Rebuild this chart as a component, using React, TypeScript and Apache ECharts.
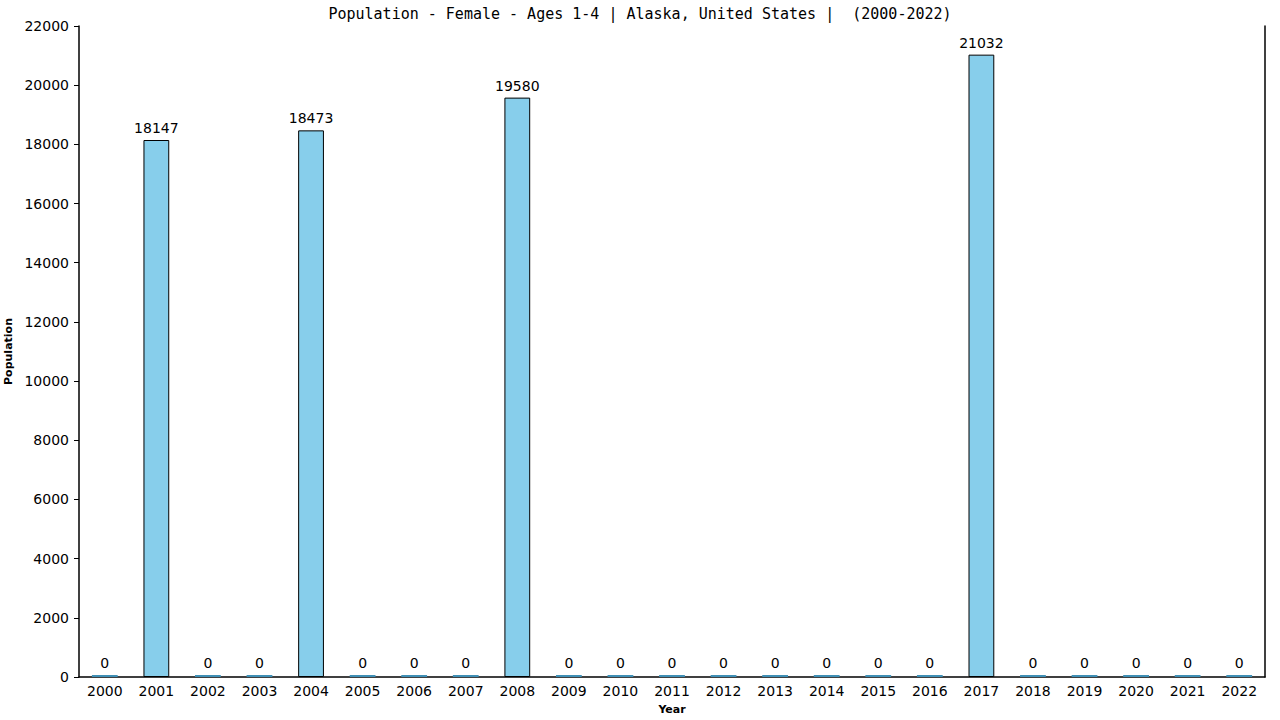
import { useEffect, useRef } from 'react'
import * as echarts from 'echarts'

const years = [
  '2000', '2001', '2002', '2003', '2004', '2005', '2006', '2007', '2008', '2009', '2010', '2011',
  '2012', '2013', '2014', '2015', '2016', '2017', '2018', '2019', '2020', '2021', '2022',
]
const population = [
  0, 18147, 0, 0, 18473, 0, 0, 0, 19580, 0, 0, 0, 0, 0, 0, 0, 0, 21032, 0, 0, 0, 0, 0,
]
const title = 'Population - Female - Ages 1-4 | Alaska, United States |  (2000-2022)'

const labelFont = 'Verdana, "DejaVu Sans", sans-serif'

export default function App() {
  const chartRef = useRef<HTMLDivElement | null>(null)

  useEffect(() => {
    if (!chartRef.current) {
      return
    }
    document.body.style.margin = '0'

    const chart = echarts.init(chartRef.current, null, { renderer: 'svg' })
    chart.setOption({
      animation: false,
      backgroundColor: '#ffffff',
      title: {
        text: title,
        left: 'center',
        top: 1,
        textStyle: {
          fontFamily: '"DejaVu Sans Mono", monospace',
          fontSize: 15,
          fontWeight: 'normal',
          color: '#000',
        },
      },
      grid: { top: 26, right: 15, bottom: 43, left: 79, outerBoundsMode: 'none', containLabel: false },
      xAxis: {
        type: 'category',
        data: years,
        name: 'Year',
        nameLocation: 'middle',
        nameGap: 27,
        nameTextStyle: { fontFamily: labelFont, fontSize: 11, fontWeight: 'bold', color: '#000' },
        axisLine: { lineStyle: { color: '#000', width: 1.5 } },
        axisTick: { show: false },
        axisLabel: { fontFamily: labelFont, fontSize: 14, color: '#000', margin: 7 },
      },
      yAxis: [
        {
          type: 'value',
          min: 0,
          max: 22000,
          interval: 2000,
          name: 'Population',
          nameLocation: 'middle',
          nameGap: 60,
          nameTextStyle: { fontFamily: labelFont, fontSize: 11, fontWeight: 'bold', color: '#000' },
          axisLine: { show: true, lineStyle: { color: '#000', width: 1.5 } },
          axisTick: { show: true, length: 5, lineStyle: { color: '#000' } },
          axisLabel: {
            fontFamily: labelFont,
            fontSize: 14,
            color: '#000',
            margin: 10,
            formatter: (v: number) => String(v),
          },
          splitLine: { show: false },
        },
        {
          type: 'value',
          min: 0,
          max: 22000,
          interval: 2000,
          position: 'right',
          axisLine: { show: true, lineStyle: { color: '#000', width: 1.5 } },
          axisTick: { show: false },
          axisLabel: { show: false },
          splitLine: { show: false },
        },
      ],
      series: [
        {
          type: 'bar',
          barWidth: '50%',
          barMinHeight: 2,
          data: population.map((v) =>
            v === 0
              ? { value: v, itemStyle: { color: '#3f8fb5', borderWidth: 0 } }
              : { value: v },
          ),
          itemStyle: { color: '#87ceeb', borderColor: '#000', borderWidth: 1 },
          label: {
            show: true,
            position: 'top',
            distance: 5,
            fontFamily: labelFont,
            fontSize: 14,
            color: '#000',
          },
        },
      ],
    })

    return () => {
      chart.dispose()
    }
  }, [])

  return <div ref={chartRef} style={{ width: 1280, height: 720 }} />
}
